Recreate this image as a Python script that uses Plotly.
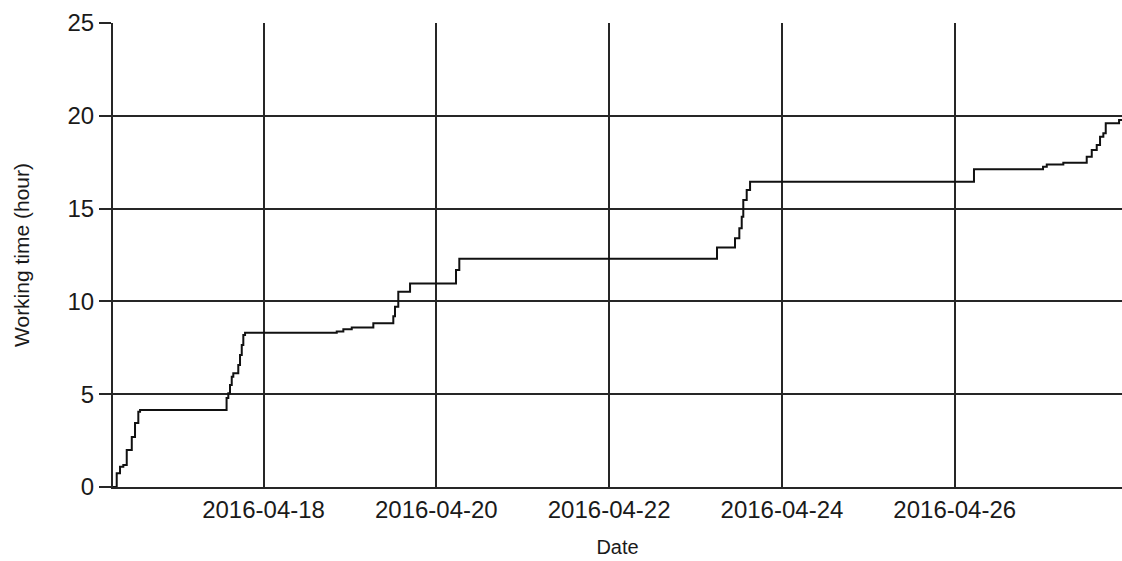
import plotly.graph_objects as go

# Step data: time at which the cumulative working time changes, and the new value (hours)
times = [
    "2016-04-16 06:11", "2016-04-16 07:13", "2016-04-16 08:08", "2016-04-16 09:03",
    "2016-04-16 10:00", "2016-04-16 11:24", "2016-04-16 12:18", "2016-04-16 13:13",
    "2016-04-16 13:42",
    "2016-04-17 13:44", "2016-04-17 14:13", "2016-04-17 14:41", "2016-04-17 15:10",
    "2016-04-17 15:36", "2016-04-17 16:59", "2016-04-17 17:28", "2016-04-17 17:57",
    "2016-04-17 18:23", "2016-04-17 18:52", "2016-04-17 19:20",
    "2016-04-18 20:20", "2016-04-18 22:10", "2016-04-19 00:30", "2016-04-19 06:30",
    "2016-04-19 12:03", "2016-04-19 12:31", "2016-04-19 13:26", "2016-04-19 16:42",
    "2016-04-20 05:28", "2016-04-20 06:23",
    "2016-04-23 05:58", "2016-04-23 10:58", "2016-04-23 12:10", "2016-04-23 12:50",
    "2016-04-23 13:16", "2016-04-23 14:13", "2016-04-23 15:09",
    "2016-04-26 05:21", "2016-04-27 00:32", "2016-04-27 01:34", "2016-04-27 06:10",
    "2016-04-27 12:40", "2016-04-27 14:04", "2016-04-27 15:27", "2016-04-27 16:22",
    "2016-04-27 17:17", "2016-04-27 17:57", "2016-04-27 21:39", "2016-04-27 22:28",
]
hours = [
    0.0, 0.74, 1.09, 1.18,
    2.0, 2.7, 3.45, 4.06,
    4.15,
    4.8, 5.05, 5.5, 5.94,
    6.13, 6.57, 7.11, 7.65,
    8.19, 8.31, 8.31,
    8.38, 8.5, 8.6, 8.82,
    9.2, 9.71, 10.52, 10.97,
    11.69, 12.3,
    12.9, 13.4, 13.94, 14.56,
    15.46, 16.0, 16.45,
    17.12, 17.26, 17.38, 17.47,
    17.8, 18.16, 18.43, 18.87,
    19.06, 19.6, 19.77, 19.77,
]
x_range = ["2016-04-16 06:11", "2016-04-27 22:28"]
y_ticks = [0, 5, 10, 15, 20, 25]

fig = go.Figure()
fig.add_trace(go.Scatter(
    x=times, y=hours, mode="lines", line_shape="hv",
    line=dict(color="#111111", width=2), showlegend=False,
))

font_family = "Liberation Sans, Arial, sans-serif"
fig.update_layout(
    width=1122, height=561,
    margin=dict(l=113, r=0, t=23, b=74),
    paper_bgcolor="white", plot_bgcolor="white",
    font=dict(family=font_family, color="#1a1a1a"),
)
fig.update_xaxes(
    range=x_range, type="date",
    tick0="2016-04-18", dtick=2 * 86400000, tickformat="%Y-%m-%d",
    showgrid=True, gridcolor="#262626", gridwidth=2,
    showline=True, linecolor="#262626", linewidth=2,
    ticks="",
    minor=dict(ticks="outside", ticklen=6, tickwidth=2, tickcolor="#262626",
               tick0="2016-04-18", dtick=2 * 86400000, showgrid=False),
    tickfont=dict(size=24),
    title=dict(text="Date", font=dict(size=20), standoff=18),
    zeroline=False,
)
fig.update_yaxes(
    range=[0, 25], tickvals=y_ticks,
    showgrid=True, gridcolor="#262626", gridwidth=2,
    showline=True, linecolor="#262626", linewidth=2,
    ticks="outside", ticklen=12, tickwidth=2, tickcolor="#262626",
    tickfont=dict(size=24),
    title=dict(text="Working time (hour)", font=dict(size=21), standoff=32),
    zeroline=False,
)

fig.write_html(
    "out.html",
    config={"displayModeBar": False},
    post_script="document.body.style.margin='0';document.body.style.overflow='hidden';",
)
